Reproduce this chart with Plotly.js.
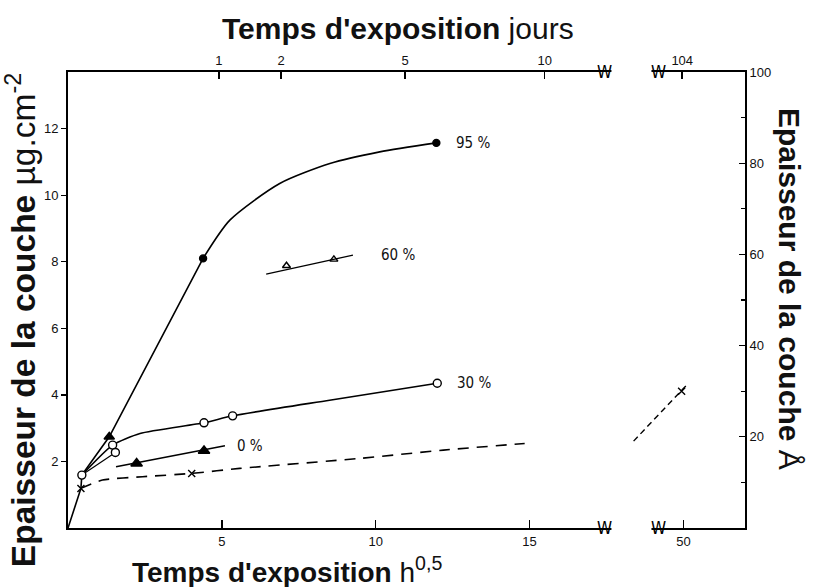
<!DOCTYPE html>
<html><head><meta charset="utf-8">
<script src="https://cdn.plot.ly/plotly-3.0.1.min.js"></script>
<style>html,body{margin:0;padding:0;background:#fff}#chart{width:814px;height:587px}</style>
</head><body><div id="chart"></div>
<script>
// ---------- axes ----------
const bottomTickVals = [5, 10, 15, 50];
const bottomTickText = ['5', '10', '15', '50'];
const topTickDays = [1, 2, 5, 10, 104];
const topTickText = ['1', '2', '5', '10', '104'];
const leftTickVals = [2, 4, 6, 8, 10, 12];
const rightTickVals = [20, 40, 60, 80, 100];
const rightMinorVals = [10, 30, 50, 70, 90];

// ---------- series (x in h^0.5, y in µg.cm-2) ----------
// 95 %
const c95x = [0, 0.42, 0.45, 1.34, 4.39, 5.26, 6.88, 8.51, 10.13, 11.97];
const c95y = [0, 1.19, 1.59, 2.74, 8.10, 9.25, 10.35, 10.95, 11.30, 11.57];
const m95x = [4.39, 11.97];
const m95y = [8.10, 11.57];
const m95triX = [1.34];
const m95triY = [2.74];
// 60 %
const c60x = [6.44, 9.26];
const c60y = [7.63, 8.20];
const m60x = [7.10, 8.64];
const m60y = [7.88, 8.07];
// 30 %
const c30x = [0.45, 1.45, 2.34, 4.42, 5.35, 8.50, 12.0];
const c30y = [1.59, 2.49, 2.84, 3.16, 3.37, 3.84, 4.35];
const c30bx = [0.45, 1.54];
const c30by = [1.59, 2.27];
const m30x = [0.45, 1.45, 1.54, 4.42, 5.35, 12.0];
const m30y = [1.59, 2.49, 2.27, 3.16, 3.37, 4.35];
// 0 %
const c0x = [1.56, 5.10];
const c0y = [1.84, 2.47];
const m0x = [2.23, 4.42];
const m0y = [1.94, 2.32];
// dashed (x markers)
const cdx = [0.42, 1.12, 2.42, 4.02, 5.58, 9.48, 12.2, 14.84];
const cdy = [1.19, 1.44, 1.54, 1.64, 1.79, 2.09, 2.34, 2.54];
const mdx = [0.42, 4.02];
const mdy = [1.19, 1.64];
const cd2x = [48.38, 50.16];
const cd2y = [2.61, 4.35];
const md2x = [49.94];
const md2y = [4.11];

// ---------- broken axis helper ----------
const BREAK_SHIFT = 30;               // units removed by the axis break
const GAP_LO = 17.66, GAP_HI = 18.96; // displayed gap
const disp = x => (x > BREAK_SHIFT ? x - BREAK_SHIFT : x);
const dispArr = a => a.map(disp);

const xRange = [0, 22];
const yRange = [0, 13.7];
const y2Range = [0, 100];

const TITLE_FONT = 'Liberation Sans Narrow, Liberation Sans, Arial, sans-serif';
const TICK_FONT = {family: 'Liberation Sans, Arial, sans-serif', size: 13, color: '#111'};
const BLACK = '#000';

function line(x, y, opts = {}) {
  return Object.assign({type: 'scatter', mode: 'lines', x: dispArr(x), y: y,
    line: {color: BLACK, width: 1.6, shape: 'linear'}, hoverinfo: 'skip', showlegend: false}, opts);
}
function marks(x, y, symbol, size, fill) {
  return {type: 'scatter', mode: 'markers', x: dispArr(x), y: y, hoverinfo: 'skip', showlegend: false,
    marker: {symbol: symbol, size: size, color: fill, line: {color: BLACK, width: 1.4}}};
}

const traces = [
  // carrier trace so the top / right axes are drawn (draws nothing)
  {type: 'scatter', mode: 'none', x: xRange, y: y2Range, xaxis: 'x2', yaxis: 'y2', hoverinfo: 'skip', showlegend: false},
  line(c95x.slice(0, 5), c95y.slice(0, 5)),
  line(c95x.slice(4), c95y.slice(4), {line: {color: BLACK, width: 1.6, shape: 'spline', smoothing: 0.7}}),
  line(c60x, c60y, {line: {color: BLACK, width: 1.3}}),
  line(c30x, c30y, {line: {color: BLACK, width: 1.6, shape: 'spline', smoothing: 0.6}}),
  line(c30bx, c30by, {line: {color: BLACK, width: 1.2}}),
  line(c0x, c0y),
  line(cdx, cdy, {line: {color: BLACK, width: 1.6, dash: '11px,8px', shape: 'spline', smoothing: 0.6}}),
  line(cd2x, cd2y, {line: {color: BLACK, width: 1.4, dash: '6px,4px'}}),
  marks(m95x, m95y, 'circle', 7, BLACK),
  marks(m95triX, m95triY, 'triangle-up', 9, BLACK),
  marks(m60x, m60y, 'triangle-up-open', 7, BLACK),
  marks(m30x, m30y, 'circle', 8, '#fff'),
  marks(m0x, m0y, 'triangle-up', 10, BLACK),
  marks(mdx, mdy, 'x-thin', 7, BLACK),
  marks(md2x, md2y, 'x-thin', 7, BLACK)
];

// series labels placed just right of each curve's end
const seriesLabels = [
  {text: '95 %', x: c95x[c95x.length - 1], y: c95y[c95y.length - 1], shift: 18},
  {text: '60 %', x: c60x[c60x.length - 1], y: c60y[c60y.length - 1], shift: 26},
  {text: '30 %', x: c30x[c30x.length - 1], y: c30y[c30y.length - 1], shift: 18},
  {text: '0 %', x: c0x[c0x.length - 1], y: c0y[c0y.length - 1], shift: 10}
];

const annotations = seriesLabels.map(l => ({
  text: l.text, x: disp(l.x), y: l.y, xref: 'x', yref: 'y', xanchor: 'left', yanchor: 'middle',
  xshift: l.shift, showarrow: false, font: {family: 'DejaVu Sans Condensed, DejaVu Sans, sans-serif', size: 15, color: '#111'}
}));

// titles
annotations.push(
  {text: "<b>Temps d'exposition</b> jours", xref: 'paper', yref: 'paper', x: 0.487, y: 1.096,
   xanchor: 'center', yanchor: 'middle', showarrow: false, font: {family: TITLE_FONT, size: 30, color: '#111'}},
  {text: "<b>Temps d'exposition</b> h<sup>0,5</sup>", xref: 'paper', yref: 'paper', x: 0.323, y: -0.092,
   xanchor: 'center', yanchor: 'middle', showarrow: false, font: {family: TITLE_FONT, size: 28, color: '#111'}},
  {text: "<b>Epaisseur de la couche</b> µg.cm<sup>-2</sup>", xref: 'paper', yref: 'paper', x: -0.07, y: 0.455,
   xanchor: 'center', yanchor: 'middle', textangle: -90, showarrow: false, font: {family: TITLE_FONT, size: 33.5, color: '#111'}},
  {text: "<b>Epaisseur de la couche</b> Å", xref: 'paper', yref: 'paper', x: 1.066, y: 0.525,
   xanchor: 'center', yanchor: 'middle', textangle: 90, showarrow: false, font: {family: TITLE_FONT, size: 30, color: '#111'}}
);

// axis break marks
[GAP_LO - 0.22, GAP_HI + 0.22].forEach(xb => {
  [0, 1].forEach(yb => annotations.push({
    text: 'W', x: xb, y: yb, xref: 'x', yref: 'paper', showarrow: false, xanchor: 'center', yanchor: 'middle',
    font: {family: 'DejaVu Sans Condensed, sans-serif', size: 17, color: BLACK}
  }));
});

const shapes = [0, 1].map(yb => ({
  type: 'rect', xref: 'x', yref: 'paper', x0: GAP_LO, x1: GAP_HI, y0: yb - 0.015, y1: yb + 0.015,
  fillcolor: '#fff', line: {width: 0}, layer: 'above'
}));

const layout = {
  width: 814, height: 587, paper_bgcolor: '#fff', plot_bgcolor: '#fff',
  margin: {l: 68, r: 69, t: 72, b: 59},
  showlegend: false,
  xaxis: {range: xRange, showline: true, linecolor: BLACK, linewidth: 2, mirror: false,
    ticks: 'inside', ticklen: 8, tickwidth: 1.5, tickcolor: BLACK,
    tickvals: dispArr(bottomTickVals), ticktext: bottomTickText, tickfont: TICK_FONT,
    showgrid: false, zeroline: false, anchor: 'y'},
  xaxis2: {range: xRange, overlaying: 'x', side: 'top', anchor: 'y2', showline: true, linecolor: BLACK, linewidth: 2,
    ticks: 'inside', ticklen: 7, tickwidth: 1.5, tickcolor: BLACK,
    tickvals: topTickDays.map(d => disp(Math.sqrt(24 * d))), ticktext: topTickText, tickfont: TICK_FONT,
    showgrid: false, zeroline: false},
  yaxis: {range: yRange, showline: true, linecolor: BLACK, linewidth: 2,
    ticks: 'outside', ticklen: 5, tickwidth: 1.3, tickcolor: BLACK,
    tickvals: leftTickVals, tickfont: TICK_FONT, showgrid: false, zeroline: false, anchor: 'x'},
  yaxis2: {range: y2Range, overlaying: 'y', side: 'right', anchor: 'x2', showline: true, linecolor: BLACK, linewidth: 2,
    ticks: 'inside', ticklen: 6, tickwidth: 1.3, tickcolor: BLACK,
    tickvals: rightTickVals, tickfont: TICK_FONT, showgrid: false, zeroline: false,
    minor: {tickvals: rightMinorVals, ticks: 'inside', ticklen: 4, tickcolor: BLACK, showgrid: false}},
  annotations: annotations,
  shapes: shapes
};

Plotly.newPlot('chart', traces, layout, {staticPlot: true, displayModeBar: false});
</script>
</body></html>
